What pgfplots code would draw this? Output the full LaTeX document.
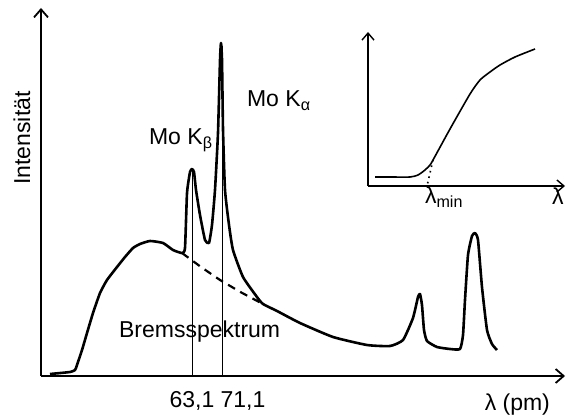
\documentclass[border=0pt]{standalone}
\usepackage{fontspec}
\setmainfont{Liberation Sans}
\usepackage{pgfplots}
\pgfplotsset{compat=1.18}
\usetikzlibrary{arrows.meta}

\begin{document}
\begin{tikzpicture}[lbl/.style={font=\fontsize{11.5}{13.5}\selectfont}]
\path[use as bounding box] (-20.5pt,-20.5pt) rectangle (262.5pt,188pt);
%% main spectrum, x in pm, y arbitrary
\begin{axis}[
   at={(0,0)}, anchor=south west,
   scale only axis, width=262pt, height=184pt,
   xmin=22.83, xmax=162.57, ymin=0, ymax=368,
   axis lines=left,
   axis line style={line width=0.9pt,-{Straight Barb[length=4pt,width=7pt]}},
   xtick=\empty, ytick=\empty,
   clip=false,
   ]
\addplot[black,line width=1.3pt,line join=round,smooth,tension=0.3] coordinates {
  (25.23,2) (30.57,4) (31.9,6) (32.43,11) (33.77,26) (35.1,43) (36.7,63)
  (38.57,83) (40.43,96) (43.1,109) (45.23,119) (47.37,128) (49.23,132)
  (51.9,135) (55.37,133) (58.03,126) (60.43,123)
  (61.23,128) (61.77,183) (62.57,204) (63.1,207) (63.63,204) (64.17,186)
  (65.23,161) (66.57,136) (67.63,133) (68.43,151) (69.23,186) (70.03,243)
  (70.57,316) (70.83,333) (71.1,316) (71.37,246) (71.9,186) (72.97,151)
  (74.03,126) (76.7,99) (80.43,79) (82.03,72) (85.77,65) (91.9,53)
  (100.7,39) (109.77,31) (115.9,30) (119.37,36) (122.03,58) (123.37,79)
  (123.9,82) (124.43,71) (124.97,46) (125.77,35) (128.43,29) (131.9,27)
  (134.57,27) (135.37,41) (135.9,76) (136.7,121) (137.77,140) (138.57,143)
  (139.37,136) (140.43,89) (141.77,46) (143.1,32) (144.43,26)};
%% Bremsspektrum under the lines
\addplot[black,line width=1.1pt,dash pattern=on 4pt off 3pt] coordinates {
  (60.43,123) (65.5,109) (70.57,96) (76,84) (82.5,71)};
%% line positions
\addplot[black,line width=0.4pt] coordinates {(63.1,0) (63.1,207)};
\addplot[black,line width=0.4pt] coordinates {(71.1,0) (71.1,330)};
\node[lbl,rotate=90] at (axis cs:17.77,238) {Intensität};
\node[lbl,anchor=base west] at (axis cs:49.77,231) {Mo K\textsubscript{β}};
\node[lbl,anchor=base west] at (axis cs:75.9,269) {Mo K\textsubscript{α}};
\node[lbl,anchor=base west] at (axis cs:41.77,39) {Bremsspektrum};
\node[lbl,anchor=base] at (axis cs:63.1,-31) {63,1};
\node[lbl,anchor=base] at (axis cs:76.7,-31) {71,1};
\node[lbl,anchor=base east] at (axis cs:160.43,-34) {λ (pm)};
\end{axis}
%% inset: short-wavelength limit
\begin{axis}[
   at={(163.5pt,95pt)}, anchor=south west,
   scale only axis, width=98.5pt, height=77pt,
   xmin=0, xmax=197, ymin=0, ymax=154,
   axis lines=left,
   axis line style={line width=0.7pt,-{Straight Barb[length=3.5pt,width=6pt]}},
   xtick=\empty, ytick=\empty,
   clip=false,
   ]
\addplot[black,line width=0.8pt,line join=round,smooth,tension=0.4] coordinates {
  (7,9) (22,9) (42,9) (50,11) (57,16) (62,21) (65,26) (82,57) (102,92)
  (112,106) (122,114) (132,121) (147,129) (167,137)};
\addplot[black,line width=0.8pt,dotted] coordinates {(65,26) (59,0)};
\node[lbl,anchor=base west] at (axis cs:50,-18) {λ\textsubscript{min}};
\node[lbl,anchor=base west] at (axis cs:177,-19) {λ};
\end{axis}
\end{tikzpicture}
\end{document}
